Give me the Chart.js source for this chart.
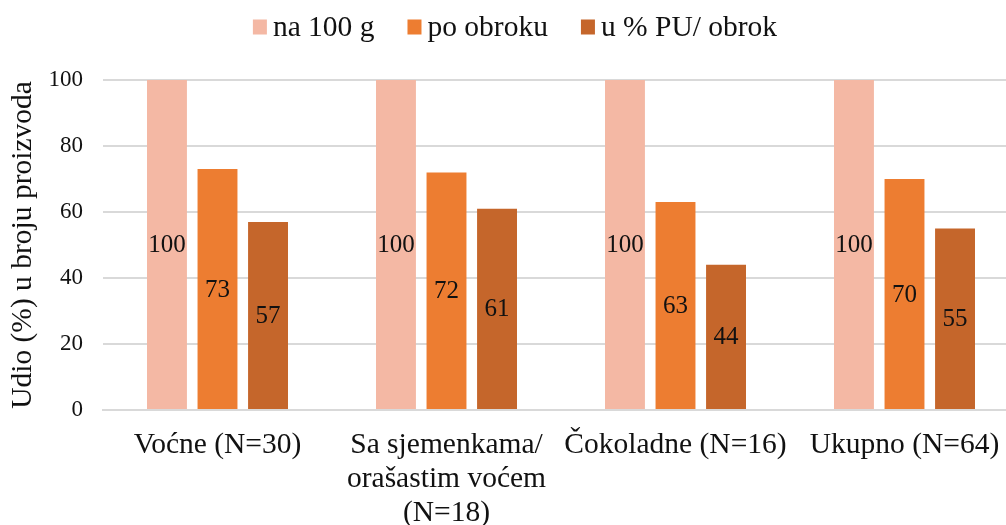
<!DOCTYPE html>
<html>
<head>
<meta charset="utf-8">
<script src="https://cdn.jsdelivr.net/npm/chart.js@4"></script>
<style>
  html, body { margin: 0; padding: 0; background: #fff; overflow: hidden; }
  #wrap { width: 1019px; height: 525px; position: relative; }
</style>
</head>
<body>
<div id="wrap"><canvas id="chart"></canvas></div>
<script>
// category labels (multi-line where the original wraps)
const categories = [
  'Voćne (N=30)',
  ['Sa sjemenkama/', 'orašastim voćem', '(N=18)'],
  'Čokoladne (N=16)',
  'Ukupno (N=64)'
];
const seriesNames = ['na 100 g', 'po obroku', 'u % PU/ obrok'];
const per100g = [100, 100, 100, 100];
const perMeal = [73, 72, 63, 70];
const pctPerMeal = [57, 61, 44, 55];
const yTicks = [0, 20, 40, 60, 80, 100];

const colors = ['#F4B8A4', '#ED7D31', '#C5662B'];
const serif = '"Liberation Serif", "Times New Roman", serif';
const textColor = '#111';

// value labels centred inside each bar
const barLabels = {
  id: 'barLabels',
  afterDatasetsDraw(chart) {
    const ctx = chart.ctx;
    ctx.save();
    ctx.font = '25px ' + serif;
    ctx.fillStyle = textColor;
    ctx.textAlign = 'center';
    ctx.textBaseline = 'middle';
    chart.data.datasets.forEach((ds, i) => {
      chart.getDatasetMeta(i).data.forEach((bar, j) => {
        ctx.fillText(String(ds.data[j]), bar.x, (bar.y + bar.base) / 2 + 1);
      });
    });
    ctx.restore();
  }
};

// Excel-style legend: small square, tight gap to the text
const topLegend = {
  id: 'topLegend',
  afterDraw(chart) {
    const ctx = chart.ctx;
    const box = 14, gap = 6, spacing = 33, centerX = 515, midY = 27;
    ctx.save();
    ctx.font = '29.5px ' + serif;
    ctx.textBaseline = 'middle';
    const items = chart.data.datasets.map(ds => ({
      text: ds.label,
      color: ds.backgroundColor,
      w: box + gap + ctx.measureText(ds.label).width
    }));
    const total = items.reduce((s, it) => s + it.w, 0) + spacing * (items.length - 1);
    let x = centerX - total / 2;
    items.forEach(it => {
      ctx.fillStyle = it.color;
      ctx.fillRect(x, midY - 7.5, box, 15);
      ctx.fillStyle = textColor;
      ctx.fillText(it.text, x + box + gap, midY + 1);
      x += it.w + spacing;
    });
    ctx.restore();
  }
};

new Chart(document.getElementById('chart'), {
  type: 'bar',
  data: {
    labels: categories,
    datasets: [
      { label: seriesNames[0], data: per100g, backgroundColor: colors[0] },
      { label: seriesNames[1], data: perMeal, backgroundColor: colors[1] },
      { label: seriesNames[2], data: pctPerMeal, backgroundColor: colors[2] }
    ]
  },
  options: {
    responsive: true,
    maintainAspectRatio: false,
    animation: false,
    categoryPercentage: 0.662,
    barPercentage: 0.79,
    layout: { padding: { top: 80, left: 0, right: 0, bottom: 0 } },
    scales: {
      x: {
        grid: { display: false },
        border: { color: '#d9d9d9', width: 2 },
        ticks: {
          color: textColor,
          padding: 10,
          maxRotation: 0,
          autoSkip: false,
          font: { family: serif, size: 29.5, lineHeight: 1.15 }
        },
        afterFit(scale) { scale.height = 115; }
      },
      y: {
        min: 0,
        max: 100,
        afterBuildTicks(scale) { scale.ticks = yTicks.map(v => ({ value: v })); },
        grid: { color: '#d9d9d9', lineWidth: 2, drawTicks: false },
        border: { display: false },
        ticks: {
          color: textColor,
          padding: 20,
          font: { family: serif, size: 23 }
        },
        title: {
          display: true,
          text: 'Udio (%) u broju proizvoda',
          color: textColor,
          padding: { top: 6, bottom: 0 },
          font: { family: serif, size: 29.5, lineHeight: 1.2 }
        },
        afterFit(scale) { scale.width = 103; }
      }
    },
    plugins: {
      legend: { display: false },
      tooltip: { enabled: false }
    }
  },
  plugins: [barLabels, topLegend]
});
</script>
</body>
</html>
